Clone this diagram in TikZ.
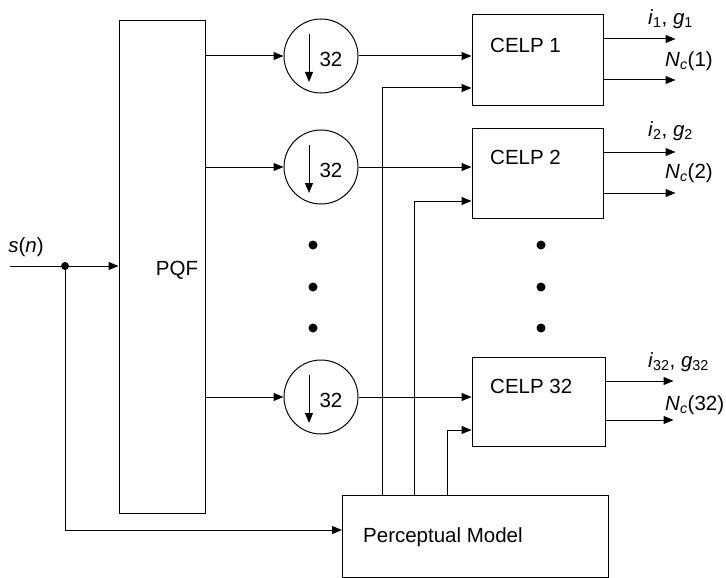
\documentclass[tikz,border=0pt]{standalone}
\usepackage{fontspec}
\setmainfont{Liberation Sans}
\usetikzlibrary{arrows.meta,calc}
\begin{document}
\begin{tikzpicture}[x=1pt,y=-1pt,
  every node/.style={font=\fontsize{20.5}{24}\selectfont},
  ln/.style={line width=1pt},
  arr/.style={ln,-{Triangle[length=10pt,width=8pt]}},
  blk/.style={draw,ln,rectangle,inner sep=0pt},
  dec/.style={draw,ln,circle,minimum size=74pt,inner sep=0pt},
  lbl/.style={inner sep=0pt}]
\useasboundingbox (0,0) rectangle (726,578);
% blocks
\node[blk,minimum width=86pt,minimum height=492pt] (pqf) at (162,267) {};
\node[lbl] (pqft) at (177,270) {PQF};
\node[dec] (c1) at (321,56) {};
\node[dec] (c2) at (321,167) {};
\node[dec] (c3) at (321,397) {};
\foreach \c in {c1,c2,c3}{
  \draw[arr] ([shift={(-12,-22)}]\c.center) -- ++(0,48);
  \node[lbl] at ([shift={(10,3)}]\c.center) {32};
}
\node[blk,minimum width=131pt,minimum height=90pt] (celp1) at (537.5,60) {};
\node[blk,minimum width=131pt,minimum height=90pt] (celp2) at (537.5,173) {};
\node[blk,minimum width=133pt,minimum height=89pt] (celp32) at (538.5,401.5) {};
\node[lbl,anchor=west] (t1) at (490,45) {CELP 1};
\node[lbl,anchor=west] (t2) at (490,157) {CELP 2};
\node[lbl,anchor=west] (t32) at (490,386) {CELP 32};
\node[blk,minimum width=266pt,minimum height=82pt] (pm) at (475,536) {};
\node[lbl,anchor=west] (pmt) at (363,537) {Perceptual Model};
% input
\coordinate (in) at (10,266);
\coordinate (dot) at (65,266);
\node[lbl] (sn) at (26,247) {\textit{s}(\textit{n})};
\draw[arr] (in) -- (pqf.west |- in);
\fill (dot) circle (4pt);
\coordinate (pmin) at (342,530);
\draw[arr] (dot) |- (pmin);
% PQF to decimators
\foreach \c in {c1,c2,c3}{
  \draw[arr] (pqf.east |- \c) -- (\c.west);
}
\draw[arr] (c1.east) -- (celp1.west |- c1);
\draw[arr] (c2.east) -- (celp2.west |- c2);
\draw[arr] (c3.east) -- (celp32.west |- c3);
% perceptual feedback
\coordinate (f1) at (382,495);
\coordinate (f2) at (414,495);
\coordinate (f3) at (447,495);
\draw[arr] (f1) |- ([yshift=-28pt]celp1.west);
\draw[arr] (f2) |- ([yshift=-28pt]celp2.west);
\draw[arr] (f3) |- ([yshift=-28.5pt]celp32.west);
% outputs
\draw[arr] ([yshift=21pt]celp1.east) -- ++(72,0);
\draw[arr] ([yshift=-20pt]celp1.east) -- ++(72,0);
\draw[arr] ([yshift=21pt]celp2.east) -- ++(72,0);
\draw[arr] ([yshift=-20pt]celp2.east) -- ++(72,0);
\draw[arr] ([yshift=20.5pt]celp32.east) -- ++(68,0);
\draw[arr] ([yshift=-18.5pt]celp32.east) -- ++(68,0);
\node[lbl,anchor=west] (o1a) at (648,19) {\textit{i}\textsubscript{1}, \textit{g}\textsubscript{1}};
\node[lbl,anchor=west] (o1b) at (665,61) {\textit{N}\textsubscript{\textit{c}}(1)};
\node[lbl,anchor=west] (o2a) at (648,131) {\textit{i}\textsubscript{2}, \textit{g}\textsubscript{2}};
\node[lbl,anchor=west] (o2b) at (665,173) {\textit{N}\textsubscript{\textit{c}}(2)};
\node[lbl,anchor=west] (o3a) at (648,362) {\textit{i}\textsubscript{32}, \textit{g}\textsubscript{32}};
\node[lbl,anchor=west] (o3b) at (665,405) {\textit{N}\textsubscript{\textit{c}}(32)};
% dots
\foreach \y in {245,287,328}{
  \fill (313,\y) circle (4.5pt);
  \fill (541,\y) circle (4.5pt);
}
\end{tikzpicture}
\end{document}
